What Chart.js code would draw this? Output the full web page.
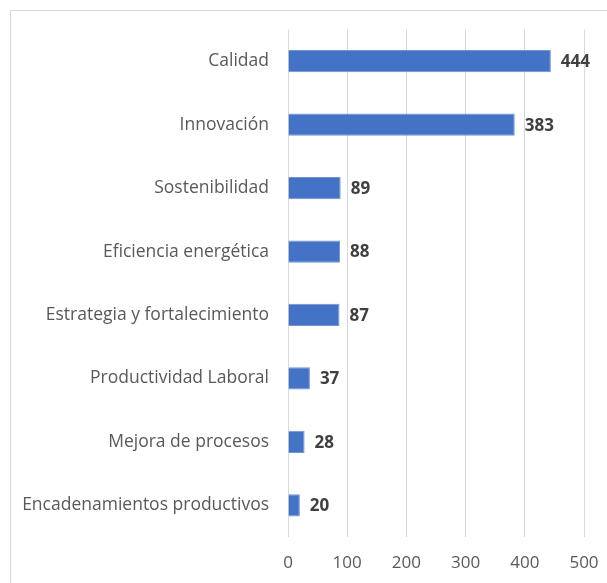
<!DOCTYPE html>
<html>
<head>
<meta charset="utf-8">
<script src="https://cdn.jsdelivr.net/npm/chart.js@4"></script>
<style>
  html, body { margin: 0; padding: 0; background: #fff; }
  #wrap { position: relative; width: 607px; height: 583px; overflow: hidden; }
  #frame { position: absolute; left: 10px; top: 10px; width: 640px; height: 640px; border: 1px solid #d9d9d9; box-sizing: border-box; }
  #box { position: absolute; left: 0; top: 0; width: 607px; height: 583px; }
</style>
</head>
<body>
<div id="wrap">
  <div id="frame"></div>
  <div id="box"><canvas id="chart"></canvas></div>
</div>
<script>
const categories = [
  "Calidad",
  "Innovación",
  "Sostenibilidad",
  "Eficiencia energética",
  "Estrategia y fortalecimiento",
  "Productividad Laboral",
  "Mejora de procesos",
  "Encadenamientos productivos",
];
const values = [444, 383, 89, 88, 87, 37, 28, 20];
const xTicks = [0, 100, 200, 300, 400, 500];

const fontFamily = "'Open Sans', sans-serif";

// etiquetas de valor al final de cada barra
const valueLabels = {
  id: "valueLabels",
  afterDatasetsDraw(chart) {
    const ctx = chart.ctx;
    const meta = chart.getDatasetMeta(0);
    ctx.save();
    ctx.font = "bold 17px " + fontFamily;
    ctx.fillStyle = "#404040";
    ctx.textAlign = "left";
    ctx.textBaseline = "middle";
    meta.data.forEach((bar, i) => {
      ctx.fillText(values[i], bar.x + 10, bar.y + 1);
    });
    ctx.restore();
  },
};

const ctx = document.getElementById("chart").getContext("2d");
const chart = new Chart(ctx, {
  type: "bar",
  data: {
    labels: categories,
    datasets: [
      {
        data: values,
        backgroundColor: "#4472c4",
        borderColor: "#6f93d3",
        borderWidth: 1,
        categoryPercentage: 1,
        barPercentage: 0.35,
      },
    ],
  },
  options: {
    indexAxis: "y",
    responsive: true,
    maintainAspectRatio: false,
    animation: false,
    layout: { padding: { top: 27, right: 23, bottom: 0, left: 0 } },
    plugins: {
      legend: { display: false },
      tooltip: { enabled: false },
    },
    scales: {
      x: {
        min: 0,
        max: 500,
        afterBuildTicks: (axis) => {
          axis.ticks = xTicks.map((v) => ({ value: v }));
        },
        afterFit: (axis) => {
          axis.height = 46;
          axis.paddingLeft = 0;
          axis.paddingRight = 0;
        },
        grid: { color: "#d9d9d9", drawTicks: false },
        border: { display: false },
        ticks: {
          padding: 16,
          color: "#595959",
          font: { family: fontFamily, size: 17 },
        },
      },
      y: {
        afterFit: (axis) => {
          axis.width = 288;
        },
        grid: { display: false, drawTicks: false },
        border: { display: false },
        ticks: {
          padding: 19,
          color: "#595959",
          font: { family: fontFamily, size: 17.5 },
        },
      },
    },
  },
  plugins: [valueLabels],
});
</script>
</body>
</html>
